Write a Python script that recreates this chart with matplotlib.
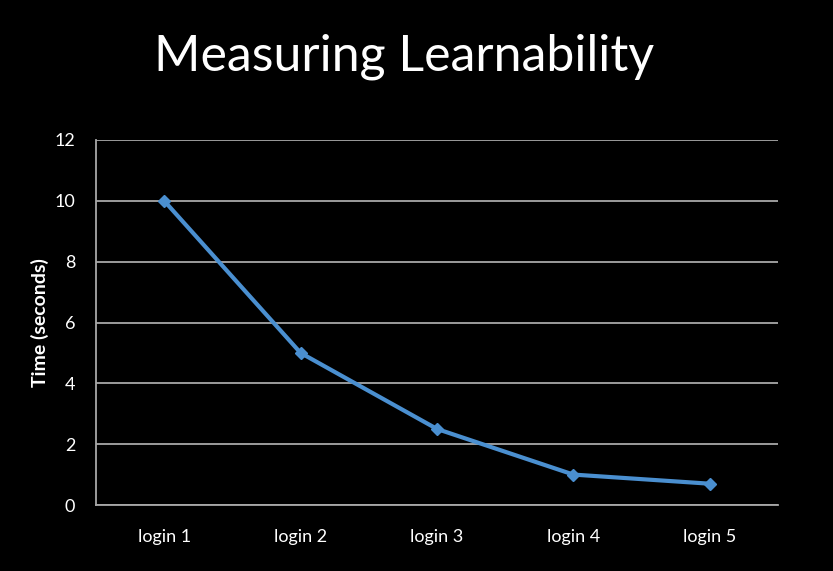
import matplotlib
matplotlib.use("Agg")
import matplotlib.pyplot as plt

# data
logins = ["login 1", "login 2", "login 3", "login 4", "login 5"]
times = [10, 5, 2.5, 1, 0.7]
y_ticks = [0, 2, 4, 6, 8, 10, 12]

plt.rcParams["font.family"] = ["Lato", "DejaVu Sans"]

fig = plt.figure(figsize=(8.33, 5.71), dpi=100, facecolor="black")
fig.text(0.485, 0.900, "Measuring Learnability", color="white",
         fontsize=36, ha="center", va="center")

ax = fig.add_axes([96 / 833, 1 - 505 / 571, (778 - 96) / 833, (505 - 140) / 571])
ax.set_facecolor("black")

x = range(len(logins))
ax.plot(x, times, color="#4a8fd0", linewidth=3, marker="D", markersize=6.5, zorder=3)

ax.set_xlim(-0.5, len(logins) - 0.5)
ax.set_ylim(0, 12)
ax.set_yticks(y_ticks)
ax.set_xticks(list(x))
ax.set_xticklabels(logins)
ax.grid(axis="y", color="#a8a8a8", linewidth=1.3)
ax.set_axisbelow(True)

for side in ["top", "right"]:
    ax.spines[side].set_visible(False)
for side in ["left", "bottom"]:
    ax.spines[side].set_color("#a8a8a8")
    ax.spines[side].set_linewidth(1.3)

ax.tick_params(colors="white", labelsize=13, length=0)
ax.tick_params(axis="x", pad=17.5)
ax.tick_params(axis="y", pad=15)
ax.set_ylabel("Time (seconds)", color="white", fontsize=14, fontweight="bold", labelpad=4)

fig.savefig("out.png", dpi=100, facecolor="black")
